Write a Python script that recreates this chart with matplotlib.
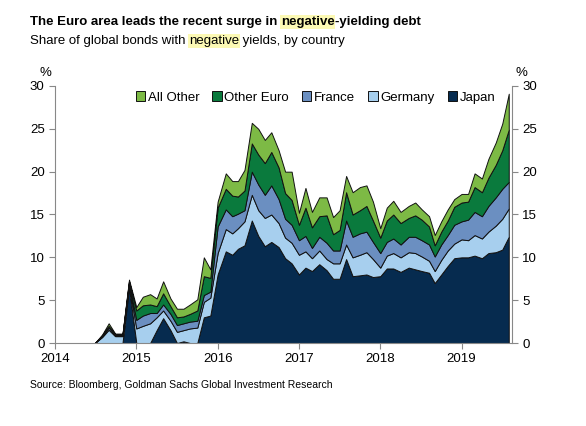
import matplotlib
matplotlib.use("Agg")
import matplotlib.pyplot as plt
import numpy as np

plt.rcParams["font.family"] = ["Liberation Sans", "DejaVu Sans"]

years = [2014.0, 2014.49, 2014.58, 2014.66, 2014.74, 2014.83, 2014.91, 2015.0, 2015.08, 2015.17,
         2015.25, 2015.33, 2015.42, 2015.5, 2015.58, 2015.66, 2015.75, 2015.83, 2015.91, 2016.0,
         2016.1, 2016.18, 2016.25, 2016.33, 2016.42, 2016.5, 2016.58, 2016.66, 2016.75, 2016.83,
         2016.91, 2017.0, 2017.08, 2017.16, 2017.25, 2017.34, 2017.42, 2017.5, 2017.58, 2017.66,
         2017.75, 2017.83, 2017.91, 2018.0, 2018.08, 2018.16, 2018.25, 2018.35, 2018.43, 2018.51,
         2018.6, 2018.67, 2018.75, 2018.83, 2018.91, 2019.0, 2019.08, 2019.16, 2019.25, 2019.33,
         2019.42, 2019.5, 2019.58]
# cumulative stack tops (%)
japan_top = [0, 0, 0, 0, 0, 0, 6.5, 0, 0, 0,
             1.5, 2.9, 1.5, 0, 0.2, 0, 0, 3.0, 3.2, 8.0,
             10.7, 10.3, 11.0, 11.4, 14.3, 12.5, 11.3, 11.8, 11.2, 9.9,
             9.3, 8.0, 8.8, 8.4, 9.2, 8.5, 7.5, 7.5, 9.8, 7.8,
             7.9, 8.0, 7.7, 7.8, 8.7, 8.7, 8.3, 8.8, 8.6, 8.4,
             8.2, 7.0, 8.0, 9.0, 9.9, 10.0, 10.0, 10.2, 9.9, 10.5,
             10.6, 10.9, 12.4]
germany_top = [0, 0, 0.7, 1.55, 0.8, 0.8, 6.8, 1.7, 2.0, 2.3,
               3.0, 3.8, 2.6, 1.3, 1.5, 1.7, 1.8, 4.8, 5.3, 10.5,
               13.3, 12.8, 13.4, 14.2, 17.3, 15.5, 14.6, 15.0, 14.0, 12.3,
               11.7, 10.3, 10.7, 9.9, 10.8, 9.8, 9.3, 9.3, 11.5, 10.0,
               10.3, 10.6, 9.8, 8.8, 10.2, 10.5, 10.0, 10.6, 10.5, 10.1,
               9.6, 8.4, 9.7, 10.8, 11.6, 12.1, 12.0, 12.6, 12.2, 13.0,
               13.7, 14.5, 15.7]
france_top = [0, 0, 0.8, 1.8, 0.9, 0.9, 7.0, 2.7, 3.2, 3.5,
              3.5, 4.5, 3.4, 2.1, 2.3, 2.5, 2.6, 5.6, 6.0, 13.6,
              15.6, 14.8, 15.1, 15.5, 20.0, 18.5, 17.3, 18.4, 16.8, 14.5,
              13.8, 12.0, 12.5, 11.1, 12.4, 11.7, 10.8, 10.8, 14.3, 12.4,
              12.8, 13.0, 11.8, 10.5, 11.8, 12.2, 11.5, 12.4, 12.4, 12.0,
              11.5, 10.1, 11.5, 12.6, 13.8, 14.2, 14.4, 15.3, 14.8, 16.0,
              17.0, 18.0, 18.8]
other_euro_top = [0, 0, 0.9, 2.0, 1.0, 1.0, 7.2, 3.8, 4.4, 4.5,
                  4.3, 5.8, 4.3, 3.0, 3.1, 3.4, 3.8, 7.8, 7.6, 15.8,
                  18.0, 17.2, 17.1, 17.8, 23.3, 22.0, 21.0, 22.3, 20.5, 17.5,
                  16.7, 13.8, 15.8, 13.5, 14.8, 14.9, 12.7, 13.2, 17.6, 15.0,
                  15.5, 16.0, 14.3, 12.3, 14.3, 15.0, 14.0, 14.6, 14.9, 14.4,
                  13.6, 11.4, 13.0, 14.3, 15.9, 16.4, 16.5, 18.2, 17.6, 19.3,
                  20.8, 22.5, 24.9]
all_top = [0, 0, 1.0, 2.3, 1.1, 1.1, 7.4, 4.2, 5.4, 5.7,
           5.2, 7.2, 5.2, 4.0, 4.0, 4.5, 5.1, 10.0, 8.6, 16.5,
           19.8, 18.9, 18.9, 20.2, 25.7, 25.0, 23.7, 24.6, 22.5, 20.0,
           20.0, 15.2, 18.1, 15.3, 17.0, 17.0, 14.7, 15.5, 19.5, 17.6,
           18.2, 18.4, 16.5, 13.4, 15.8, 16.6, 15.3, 16.0, 16.4, 15.6,
           14.8, 12.6, 14.2, 15.6, 16.8, 17.4, 17.4, 19.8, 19.2, 21.5,
           23.4, 25.6, 29.1]

series = ["Japan", "Germany", "France", "Other Euro", "All Other"]
colors = ["#062b4f", "#a7cfee", "#6b8fc1", "#0a7a3d", "#7dba45"]
tops = [japan_top, germany_top, france_top, other_euro_top, all_top]
xticks = [2014, 2015, 2016, 2017, 2018, 2019]

fig = plt.figure(figsize=(5.86, 4.26), dpi=100)
ax = fig.add_axes([55/586, 1-343/426, 457/586, 257/426])
x = np.array(years)
lower = np.zeros(len(x))
handles = []
for name, col, top in zip(series, colors, tops):
    t = np.array(top, dtype=float)
    h = ax.fill_between(x, lower, t, facecolor=col, edgecolor="#111111", linewidth=0.7, label=name)
    handles.append(h)
    lower = t
ax.set_xlim(2014, 2019.62)
ax.set_ylim(0, 30)
ax.set_yticks(range(0, 31, 5))
ax.set_xticks(xticks)
ax.set_xticklabels([str(v) for v in xticks])
ax.tick_params(axis="y", which="both", left=True, right=True, labelleft=True, labelright=True,
               labelsize=9.5, color="#888888", length=4)
ax.tick_params(axis="x", labelsize=9.5, color="#888888", length=4)
for s in ["left", "right", "bottom"]:
    ax.spines[s].set_color("#888888")
ax.spines["top"].set_visible(False)
ax.text(-0.02, 1.04, "%", transform=ax.transAxes, ha="center", fontsize=9.5)
ax.text(1.02, 1.04, "%", transform=ax.transAxes, ha="center", fontsize=9.5)
leg = ax.legend(handles[::-1], series[::-1], loc="upper center", bbox_to_anchor=(0.57, 1.01), ncol=5,
                frameon=False, fontsize=9.5, handlelength=0.7, handleheight=0.7,
                handletextpad=0.2, columnspacing=1.0, borderaxespad=0.2)

fig.canvas.draw()
r = fig.canvas.get_renderer()
hl = "#fcf9b4"

def line(parts, y, size, weight):
    xpos = 30/586
    for txt, high in parts:
        t = fig.text(xpos, y, txt, fontsize=size, fontweight=weight, va="baseline")
        if high:
            t.set_bbox(dict(facecolor=hl, edgecolor="none", pad=0.5))
        bb = t.get_window_extent(r)
        xpos += bb.width / fig.bbox.width

line([("The Euro area leads the recent surge in ", False), ("negative", True), ("-yielding debt", False)],
     1-25/426, 9.5, "bold")
line([("Share of global bonds with ", False), ("negative", True), (" yields, by country", False)],
     1-44/426, 9.5, "normal")
fig.text(30/586, 1-388/426, "Source: Bloomberg, Goldman Sachs Global Investment Research",
         fontsize=7.5)
fig.savefig("out.png", dpi=100)
